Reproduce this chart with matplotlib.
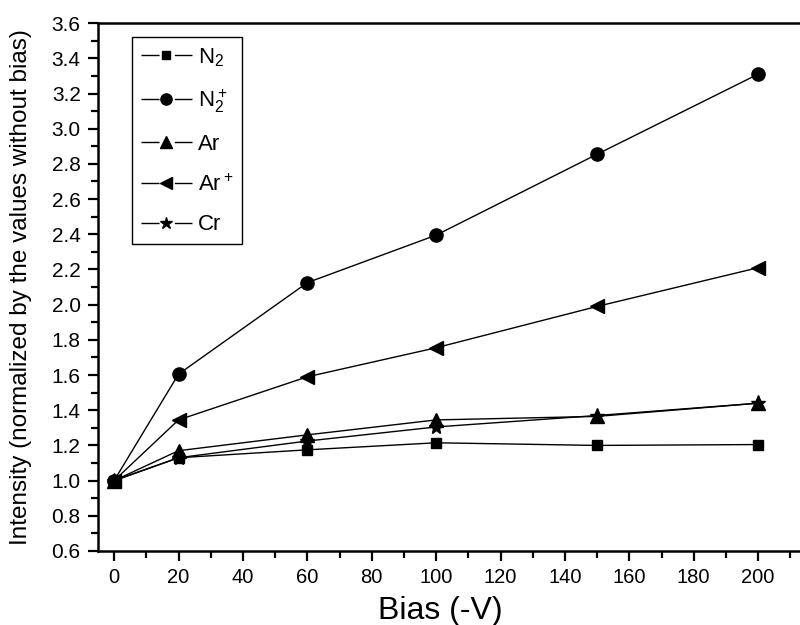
import numpy as np
import matplotlib
matplotlib.use("Agg")
import matplotlib.pyplot as plt
from matplotlib.ticker import MultipleLocator
from matplotlib.lines import Line2D

plt.rcParams['font.family'] = ['Liberation Sans', 'DejaVu Sans']
plt.rcParams['mathtext.default'] = 'regular'

bias = [0, 20, 60, 100, 150, 200]
n2 = [1.00, 1.13, 1.175, 1.215, 1.20, 1.205]
n2_ion = [1.00, 1.605, 2.125, 2.395, 2.855, 3.31]
ar = [1.00, 1.17, 1.26, 1.345, 1.365, 1.44]
ar_ion = [1.00, 1.345, 1.59, 1.755, 1.99, 2.21]
cr = [1.00, 1.13, 1.225, 1.305, 1.37, 1.44]

labels = ['N$_2$', 'N$_2^+$', 'Ar', 'Ar$^+$', 'Cr']
series = [n2, n2_ion, ar, ar_ion, cr]
markers = ['s', 'o', '^', '<', '*']
msizes = [7.5, 9.5, 9.5, 9.5, 11]

fig = plt.figure(figsize=(8, 6.25), dpi=100)
ax = fig.add_axes([0.1225, 0.1184, 0.8775, 0.8446])

handles = []
for y, lab, m, ms in zip(series, labels, markers, msizes):
    ax.plot(bias, y, color='black', lw=1.0, marker=m, markersize=ms)
    # legend handle with gaps around the marker
    handles.append(Line2D([], [], color='black', lw=1.0, marker=m, markersize=ms * 0.85,
                          dashes=(13, 11, 13, 60)))

ax.set_xlim(-5, 213)
ax.set_ylim(0.6, 3.6)
ax.xaxis.set_major_locator(MultipleLocator(20))
ax.xaxis.set_minor_locator(MultipleLocator(10))
ax.yaxis.set_major_locator(MultipleLocator(0.2))
ax.yaxis.set_minor_locator(MultipleLocator(0.1))
ax.yaxis.set_major_formatter(plt.FormatStrFormatter('%.1f'))

ax.spines['right'].set_visible(False)
for s in ['left', 'bottom', 'top']:
    ax.spines[s].set_linewidth(1.8)

ax.tick_params(which='major', direction='out', length=7.5, width=1.6)
ax.tick_params(which='minor', direction='out', length=5, width=1.6)
ax.tick_params(axis='y', labelsize=15, pad=5)
ax.tick_params(axis='x', labelsize=14.5, pad=5)

ax.set_xlabel('Bias (-V)', fontsize=23)
ax.xaxis.set_label_coords(0.487, -0.085)
ax.set_ylabel('Intensity (normalized by the values without bias)', fontsize=17.5, labelpad=14)

leg = ax.legend(handles, labels, loc='upper left', bbox_to_anchor=(0.0485, 0.973),
                fontsize=16, fancybox=False, edgecolor='black', framealpha=1,
                numpoints=1, handlelength=2.3, handletextpad=0.25,
                labelspacing=0.85, borderpad=0.4, borderaxespad=0)
leg.get_frame().set_linewidth(1.0)

fig.savefig('out.png', dpi=100)
